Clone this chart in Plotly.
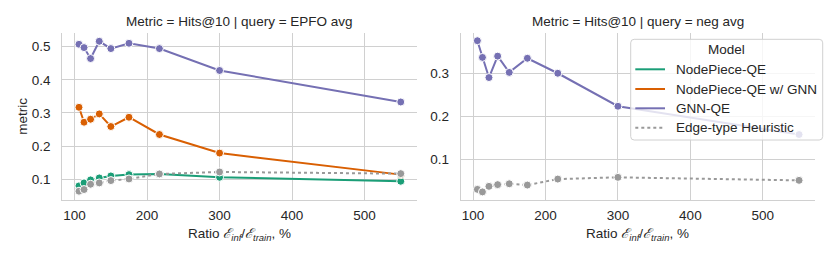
import plotly.graph_objects as go

# ---- data ----
ratios = [106, 113, 122, 134, 150, 175, 217, 300, 550]
models = ["NodePiece-QE", "NodePiece-QE w/ GNN", "GNN-QE", "Edge-type Heuristic"]

epfo_nodepiece = [0.080, 0.089, 0.098, 0.104, 0.110, 0.114, 0.116, 0.106, 0.094]
epfo_nodepiece_gnn = [0.317, 0.272, 0.281, 0.297, 0.259, 0.287, 0.235, 0.179, 0.114]
epfo_gnnqe = [0.507, 0.497, 0.464, 0.516, 0.494, 0.510, 0.494, 0.428, 0.333]
epfo_heuristic = [0.064, 0.069, 0.085, 0.089, 0.096, 0.101, 0.116, 0.122, 0.117]

neg_gnnqe = [0.377, 0.338, 0.291, 0.341, 0.303, 0.336, 0.301, 0.224, 0.158]
neg_heuristic = [0.030, 0.024, 0.037, 0.041, 0.043, 0.040, 0.054, 0.058, 0.051]

x_ticks = [100, 200, 300, 400, 500]
y_ticks_left = [0.1, 0.2, 0.3, 0.4, 0.5]
y_ticks_right = [0.1, 0.2, 0.3]

titles = ["Metric = Hits@10 | query = EPFO avg", "Metric = Hits@10 | query = neg avg"]
x_title = "Ratio <i>ℰ</i><sub><i>inf</i></sub>/<i>ℰ</i><sub><i>train</i></sub>, %"
y_title = "metric"
legend_title = "Model"

colors = {"NodePiece-QE": "#1b9e77", "NodePiece-QE w/ GNN": "#d95f02",
          "GNN-QE": "#7570b3", "Edge-type Heuristic": "#999999"}
dashes = {"NodePiece-QE": "solid", "NodePiece-QE w/ GNN": "solid",
          "GNN-QE": "solid", "Edge-type Heuristic": "dot"}

FONT = "Liberation Sans, Arial, sans-serif"
TXT = "#262626"
GRID = "#d0d0d0"
FS = 13.5
W, H = 830, 257


def px_x(x):
    return x / W


def px_y(y):
    return 1 - y / H


fig = go.Figure()

panels = [
    ("x", "y", {"NodePiece-QE": epfo_nodepiece, "NodePiece-QE w/ GNN": epfo_nodepiece_gnn,
                "GNN-QE": epfo_gnnqe, "Edge-type Heuristic": epfo_heuristic}),
    ("x2", "y2", {"GNN-QE": neg_gnnqe, "Edge-type Heuristic": neg_heuristic}),
]

for xa, ya, series in panels:
    for m in models:
        if m not in series:
            continue
        fig.add_trace(go.Scatter(
            x=ratios, y=series[m], xaxis=xa, yaxis=ya, mode="lines+markers",
            line=dict(color=colors[m], width=2, dash=dashes[m]),
            marker=dict(color=colors[m], size=8, line=dict(color="white", width=1)),
            showlegend=False, hoverinfo="skip"))

dom_left = [62.3 / W, 416.7 / W]
dom_right = [460.7 / W, 815.0 / W]
dom_y = [px_y(199.5), px_y(33.0)]

common_x = dict(range=[83, 572], tickvals=x_ticks, showgrid=True, gridcolor=GRID, gridwidth=1,
                showline=True, linecolor=GRID, linewidth=1, zeroline=False, automargin=False,
                ticks="outside", ticklen=3, tickcolor="rgba(0,0,0,0)",
                tickfont=dict(size=FS, color=TXT, family=FONT))
common_y = dict(showgrid=True, gridcolor=GRID, gridwidth=1, showline=True, linecolor=GRID,
                linewidth=1, zeroline=False, ticks="outside", ticklen=8, automargin=False,
                tickcolor="rgba(0,0,0,0)", tickformat=".1f",
                tickfont=dict(size=FS, color=TXT, family=FONT))

fig.update_layout(
    width=W, height=H,
    margin=dict(l=0, r=0, t=0, b=0),
    paper_bgcolor="white", plot_bgcolor="white",
    font=dict(family=FONT, size=FS, color=TXT),
    xaxis=dict(domain=dom_left, anchor="y", **common_x),
    yaxis=dict(domain=dom_y, anchor="x", range=[0.039, 0.541], tickvals=y_ticks_left, **common_y),
    xaxis2=dict(domain=dom_right, anchor="y2", **common_x),
    yaxis2=dict(domain=dom_y, anchor="x2", range=[0.0063, 0.395], tickvals=y_ticks_right,
                **common_y),
    showlegend=False,
)

# subplot titles and axis titles
for dom, t in [(dom_left, titles[0]), (dom_right, titles[1])]:
    cx = (dom[0] + dom[1]) / 2
    fig.add_annotation(text=t, xref="paper", yref="paper", x=cx, y=px_y(21),
                       xanchor="center", yanchor="middle", showarrow=False,
                       font=dict(size=FS, color=TXT, family=FONT))
    fig.add_annotation(text=x_title, xref="paper", yref="paper", x=cx, y=px_y(234),
                       xanchor="center", yanchor="middle", showarrow=False,
                       font=dict(size=FS, color=TXT, family=FONT))

fig.add_annotation(text=y_title, xref="paper", yref="paper", x=px_x(22.7), y=px_y(116),
                   xanchor="center", yanchor="middle", showarrow=False, textangle=-90,
                   font=dict(size=FS, color=TXT, family=FONT))

# legend box (rounded rectangle) in right panel
bx0, bx1, by0, by1, r = 630.7, 822.7, 39.3, 140.0, 3.5
path = (f"M {px_x(bx0 + r)},{px_y(by0)} L {px_x(bx1 - r)},{px_y(by0)} "
        f"Q {px_x(bx1)},{px_y(by0)} {px_x(bx1)},{px_y(by0 + r)} "
        f"L {px_x(bx1)},{px_y(by1 - r)} Q {px_x(bx1)},{px_y(by1)} {px_x(bx1 - r)},{px_y(by1)} "
        f"L {px_x(bx0 + r)},{px_y(by1)} Q {px_x(bx0)},{px_y(by1)} {px_x(bx0)},{px_y(by1 - r)} "
        f"L {px_x(bx0)},{px_y(by0 + r)} Q {px_x(bx0)},{px_y(by0)} {px_x(bx0 + r)},{px_y(by0)} Z")
fig.add_shape(type="path", path=path, xref="paper", yref="paper", layer="above",
              fillcolor="rgba(255,255,255,0.8)", line=dict(color="#d0d0d0", width=1))

fig.add_annotation(text=legend_title, xref="paper", yref="paper", x=px_x((bx0 + bx1) / 2),
                   y=px_y(50), xanchor="center", yanchor="middle", showarrow=False,
                   font=dict(size=FS, color=TXT, family=FONT))

row_y = [69.3, 89.0, 108.3, 127.7]
for m, yy in zip(models, row_y):
    fig.add_shape(type="line", xref="paper", yref="paper", layer="above",
                  x0=px_x(635.3), x1=px_x(665.0), y0=px_y(yy), y1=px_y(yy),
                  line=dict(color=colors[m], width=2, dash=dashes[m]))
    fig.add_annotation(text=m, xref="paper", yref="paper", x=px_x(673.5), y=px_y(yy),
                       xanchor="left", yanchor="middle", showarrow=False,
                       font=dict(size=FS, color=TXT, family=FONT))

fig.write_html("out.html", config={"displayModeBar": False},
               post_script="document.body.style.margin='0';document.body.style.overflow='hidden';")
